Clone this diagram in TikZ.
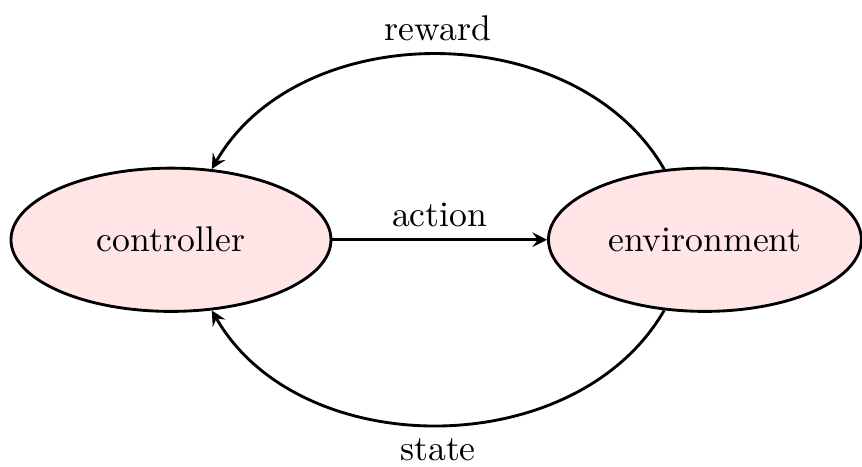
\documentclass[tikz,border=0pt]{standalone}
\usepackage{tikz}
\usetikzlibrary{shapes.geometric}

\begin{document}
\begin{tikzpicture}[thick, >=stealth,
            agent/.style={ellipse, draw=black, fill=red!10, minimum height=1.41cm}]
            \useasboundingbox (0,0) rectangle (8.485,-4.587);
            \node [agent, minimum width=3.15cm] (ctrl) at (1.683,-2.36) {controller};
            \node [agent, minimum width=3.08cm] (env) at (6.939,-2.36) {environment};
            \draw [->] (ctrl) -- node [above] {action} (env);
            \draw [->] (env) to [out=120, in=60] node [above] {reward} (ctrl);
            \draw [->] (env) to [out=-120, in=-60] node [below] {state} (ctrl);
        \end{tikzpicture}
\end{document}
